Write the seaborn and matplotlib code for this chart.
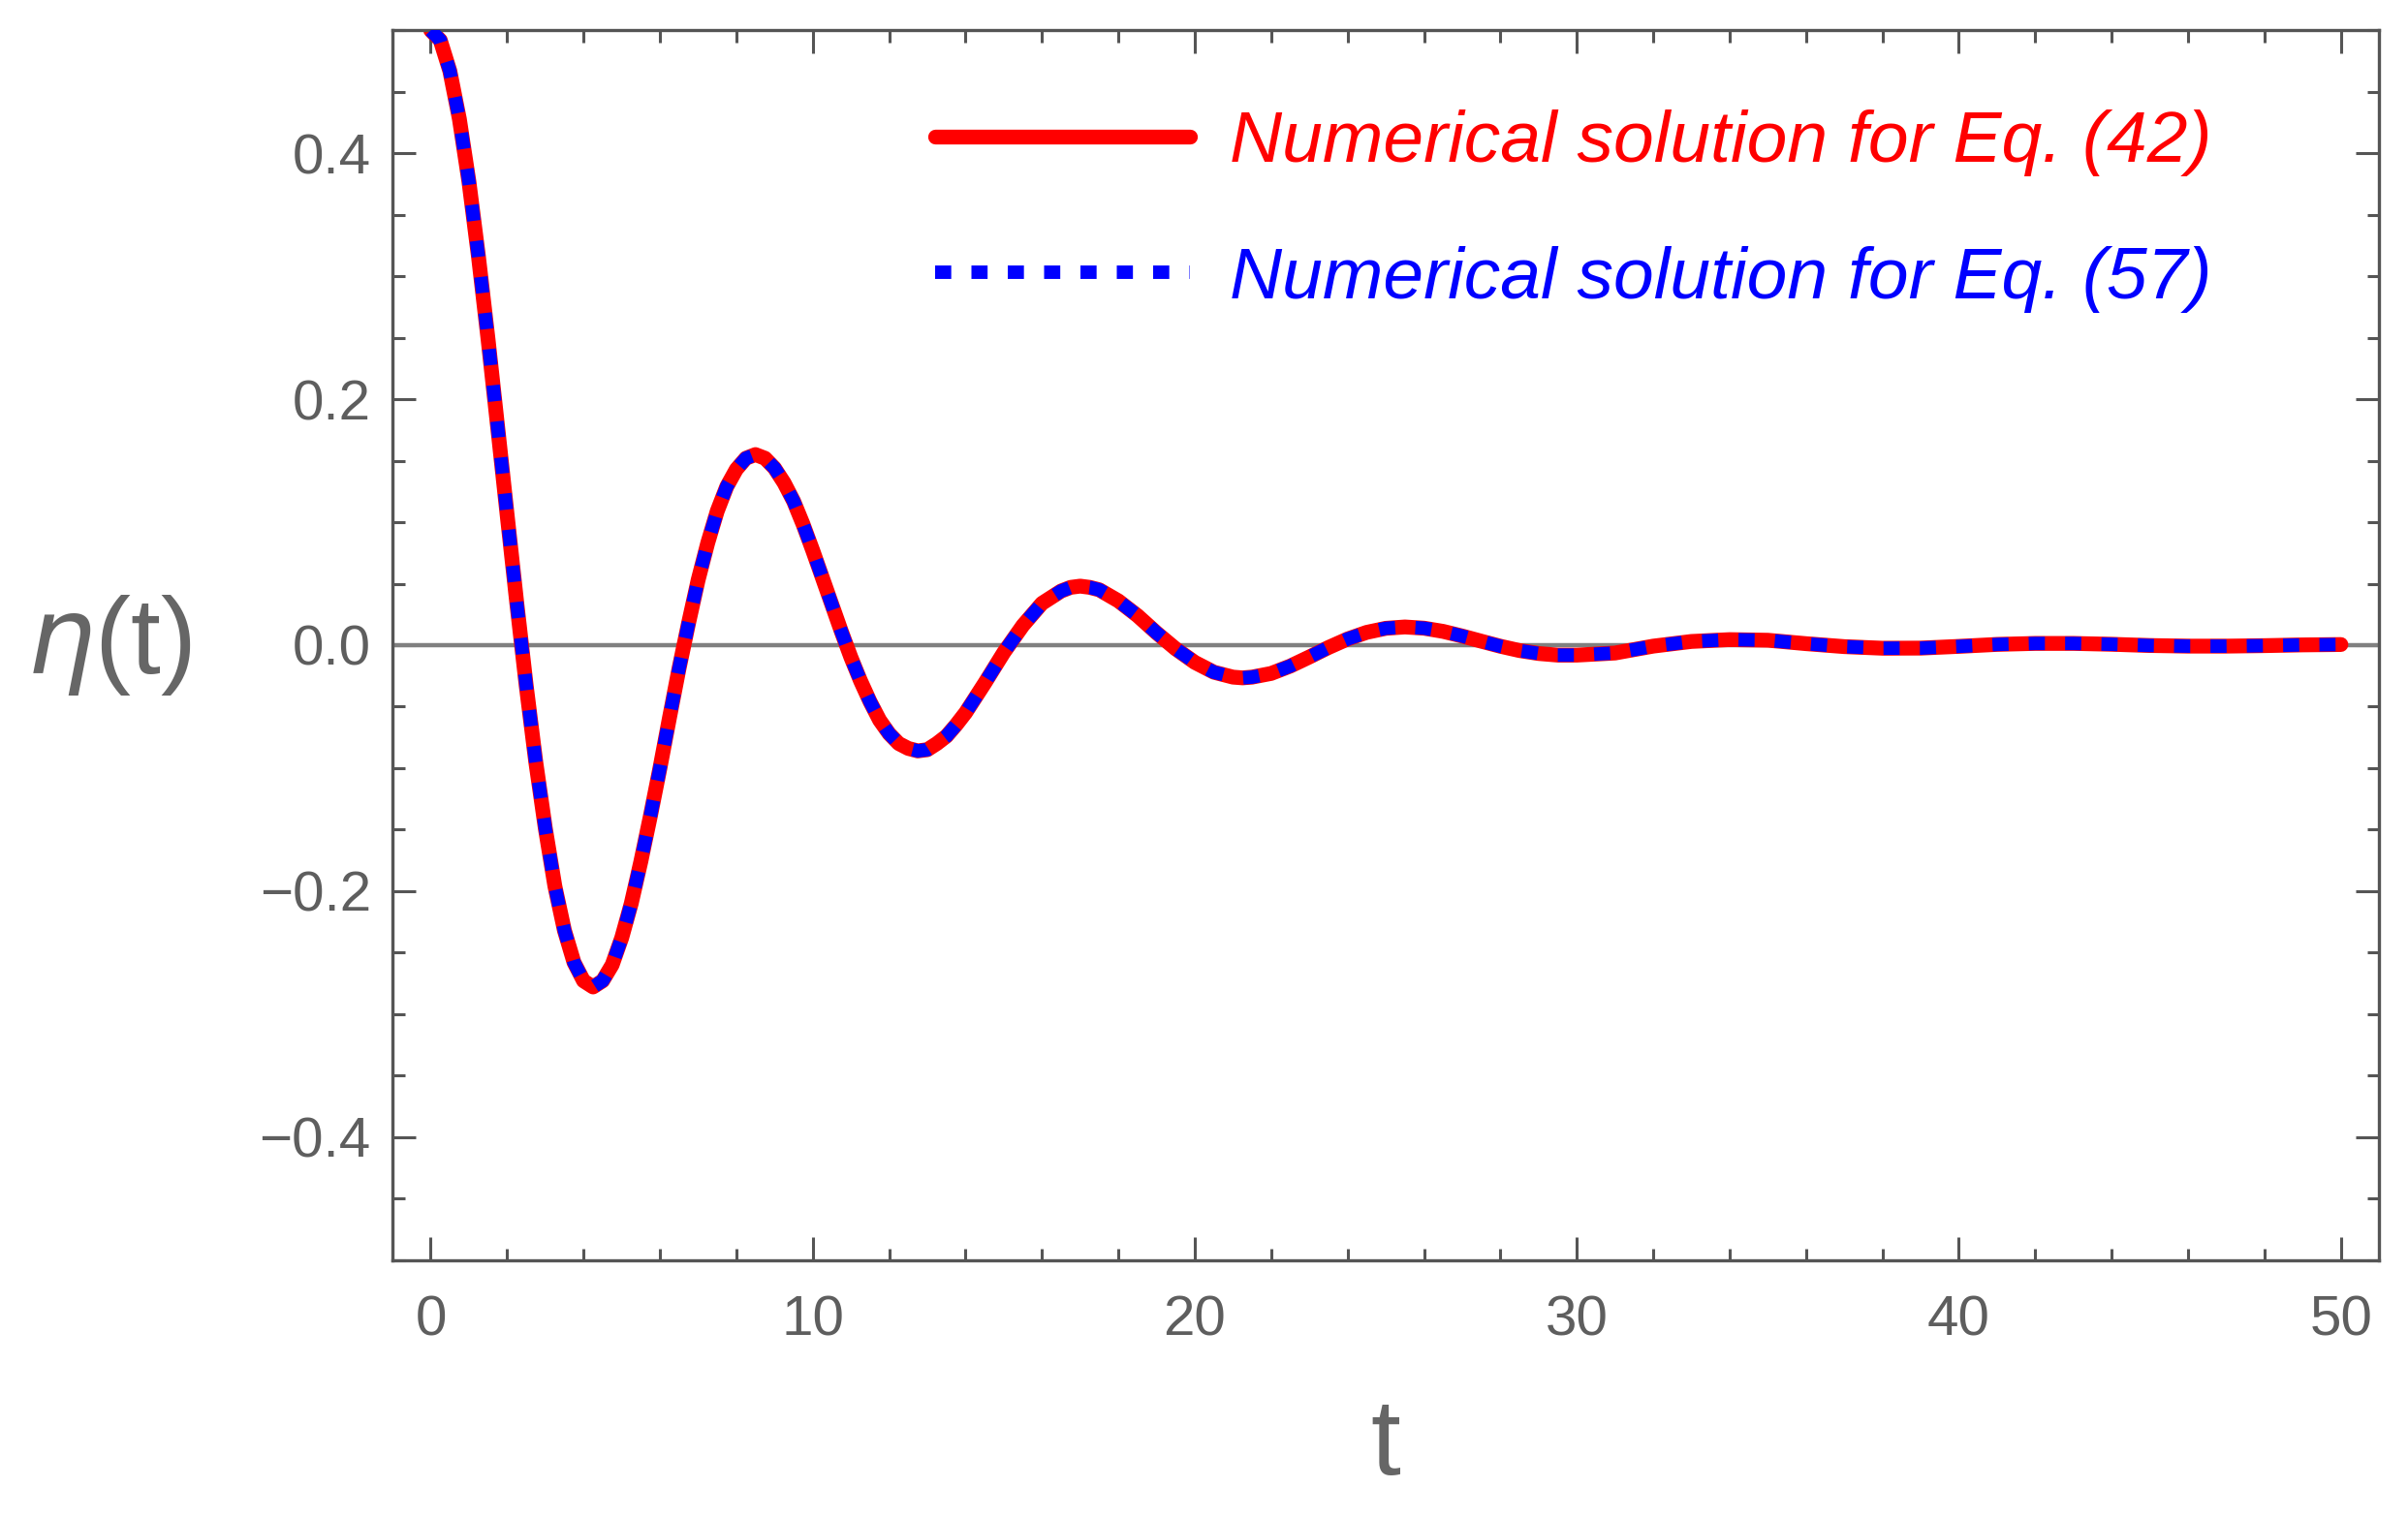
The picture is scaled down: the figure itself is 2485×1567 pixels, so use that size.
import numpy as np
import pandas as pd
import matplotlib
matplotlib.use("Agg")
import matplotlib.pyplot as plt
from matplotlib.ticker import MultipleLocator
import seaborn as sns

# values (both solutions lie on top of each other)
t_vals = [0, 0.25, 0.5, 0.75, 1, 1.25, 1.5, 1.75, 2, 2.25, 2.5, 2.75, 3, 3.25, 3.5, 3.75,
          4, 4.25, 4.5, 4.75, 5, 5.25, 5.5, 5.75, 6, 6.25, 6.5, 6.75, 7, 7.25, 7.5, 7.75,
          8, 8.25, 8.5, 8.75, 9, 9.25, 9.5, 9.75, 10, 10.25, 10.5, 10.75, 11, 11.25, 11.5,
          11.75, 12, 12.25, 12.5, 12.75, 13, 13.25, 13.5, 13.75, 14, 14.5, 15, 15.5, 16,
          16.5, 16.75, 17, 17.25, 17.5, 18, 18.5, 19, 19.5, 20, 20.5, 21, 21.25, 21.5, 22,
          22.5, 23, 23.5, 24, 24.5, 25, 25.5, 26, 26.5, 27, 27.5, 28, 28.5, 29, 29.5, 30,
          31, 32, 33, 34, 35, 36, 37, 38, 39, 40, 41, 42, 43, 44, 45, 46, 47, 48, 49, 50]
eta_42 = [0.500, 0.492, 0.467, 0.428, 0.377, 0.316, 0.249, 0.178, 0.106, 0.035, -0.033,
          -0.095, -0.149, -0.196, -0.232, -0.258, -0.273, -0.278, -0.273, -0.260, -0.238,
          -0.210, -0.176, -0.139, -0.100, -0.059, -0.019, 0.018, 0.053, 0.083, 0.109,
          0.129, 0.143, 0.152, 0.155, 0.152, 0.144, 0.132, 0.117, 0.098, 0.077, 0.055,
          0.033, 0.011, -0.010, -0.029, -0.046, -0.061, -0.072, -0.080, -0.084, -0.086,
          -0.085, -0.080, -0.074, -0.065, -0.055, -0.031, -0.006, 0.016, 0.034, 0.044,
          0.047, 0.048, 0.047, 0.045, 0.036, 0.024, 0.010, -0.003, -0.014, -0.022, -0.026,
          -0.0266, -0.026, -0.023, -0.017, -0.0096, -0.0019, 0.0050, 0.0104, 0.0137,
          0.0148, 0.0138, 0.0112, 0.0074, 0.0032, -0.0009, -0.0044, -0.0068, -0.0081,
          -0.0081, -0.0064, -0.0008, 0.0030, 0.0045, 0.0040, 0.0012, -0.0012, -0.0025,
          -0.0024, -0.0010, 0.0006, 0.0014, 0.0014, 0.0007, -0.0003, -0.0008, -0.0008,
          -0.0004, 0.0002, 0.0005]
eta_57 = list(eta_42)

labels = ["Numerical solution for Eq. (42)", "Numerical solution for Eq. (57)"]

df = pd.DataFrame({"t": t_vals, "eq42": eta_42, "eq57": eta_57})

sns.set_style("ticks")
plt.rcParams['font.family'] = ['Liberation Sans', 'DejaVu Sans']
plt.rcParams['mathtext.fontset'] = 'dejavusans'

fig = plt.figure(figsize=(12.425, 7.835), dpi=200)
ax = fig.add_axes([0.163, 0.170, 0.825, 0.810])

ax.axhline(0, color='#808080', lw=1.6, zorder=1)
sns.lineplot(data=df, x="t", y="eq42", ax=ax, color='#ff0000', lw=5.5,
             label=labels[0], zorder=2, solid_joinstyle='round')
sns.lineplot(data=df, x="t", y="eq57", ax=ax, color='#0000ff', lw=5.0,
             linestyle=(0, (1.2, 1.5)), label=labels[1], zorder=3)

ax.set_xlim(-1.0, 51.0)
ax.set_ylim(-0.5, 0.5)
ax.xaxis.set_major_locator(MultipleLocator(10))
ax.xaxis.set_minor_locator(MultipleLocator(2))
ax.yaxis.set_major_locator(MultipleLocator(0.2))
ax.yaxis.set_minor_locator(MultipleLocator(0.05))
ax.yaxis.set_major_formatter(matplotlib.ticker.FuncFormatter(
    lambda v, p: f"{v:.1f}".replace("-", "\u2212")))

for s in ax.spines.values():
    s.set_visible(True)
    s.set_color('#555555')
    s.set_linewidth(1.2)
ax.tick_params(which='both', direction='in', top=True, right=True, color='#555555',
               labelcolor='#5e5e5e', labelsize=21, width=1.1)
ax.tick_params(which='major', length=8.5)
ax.tick_params(axis='x', which='major', pad=13)
ax.tick_params(axis='y', which='major', pad=8)
ax.tick_params(which='minor', length=4.5)

ax.set_xlabel("t", fontsize=40, color='#666666', labelpad=18)
ax.set_ylabel(r"$\eta$(t)", fontsize=40, color='#666666', rotation=0,
              ha='center', va='center')
ax.yaxis.set_label_coords(-0.143, 0.5)

leg = ax.legend(loc='upper left', bbox_to_anchor=(0.255, 0.965), frameon=False,
                handlelength=3.5, handletextpad=0.55, labelspacing=0.95,
                borderpad=0, prop={'style': 'italic', 'size': 27})
for txt, col in zip(leg.get_texts(), ['#ff0000', '#0000ff']):
    txt.set_color(col)

fig.savefig("out.png", dpi=200)
